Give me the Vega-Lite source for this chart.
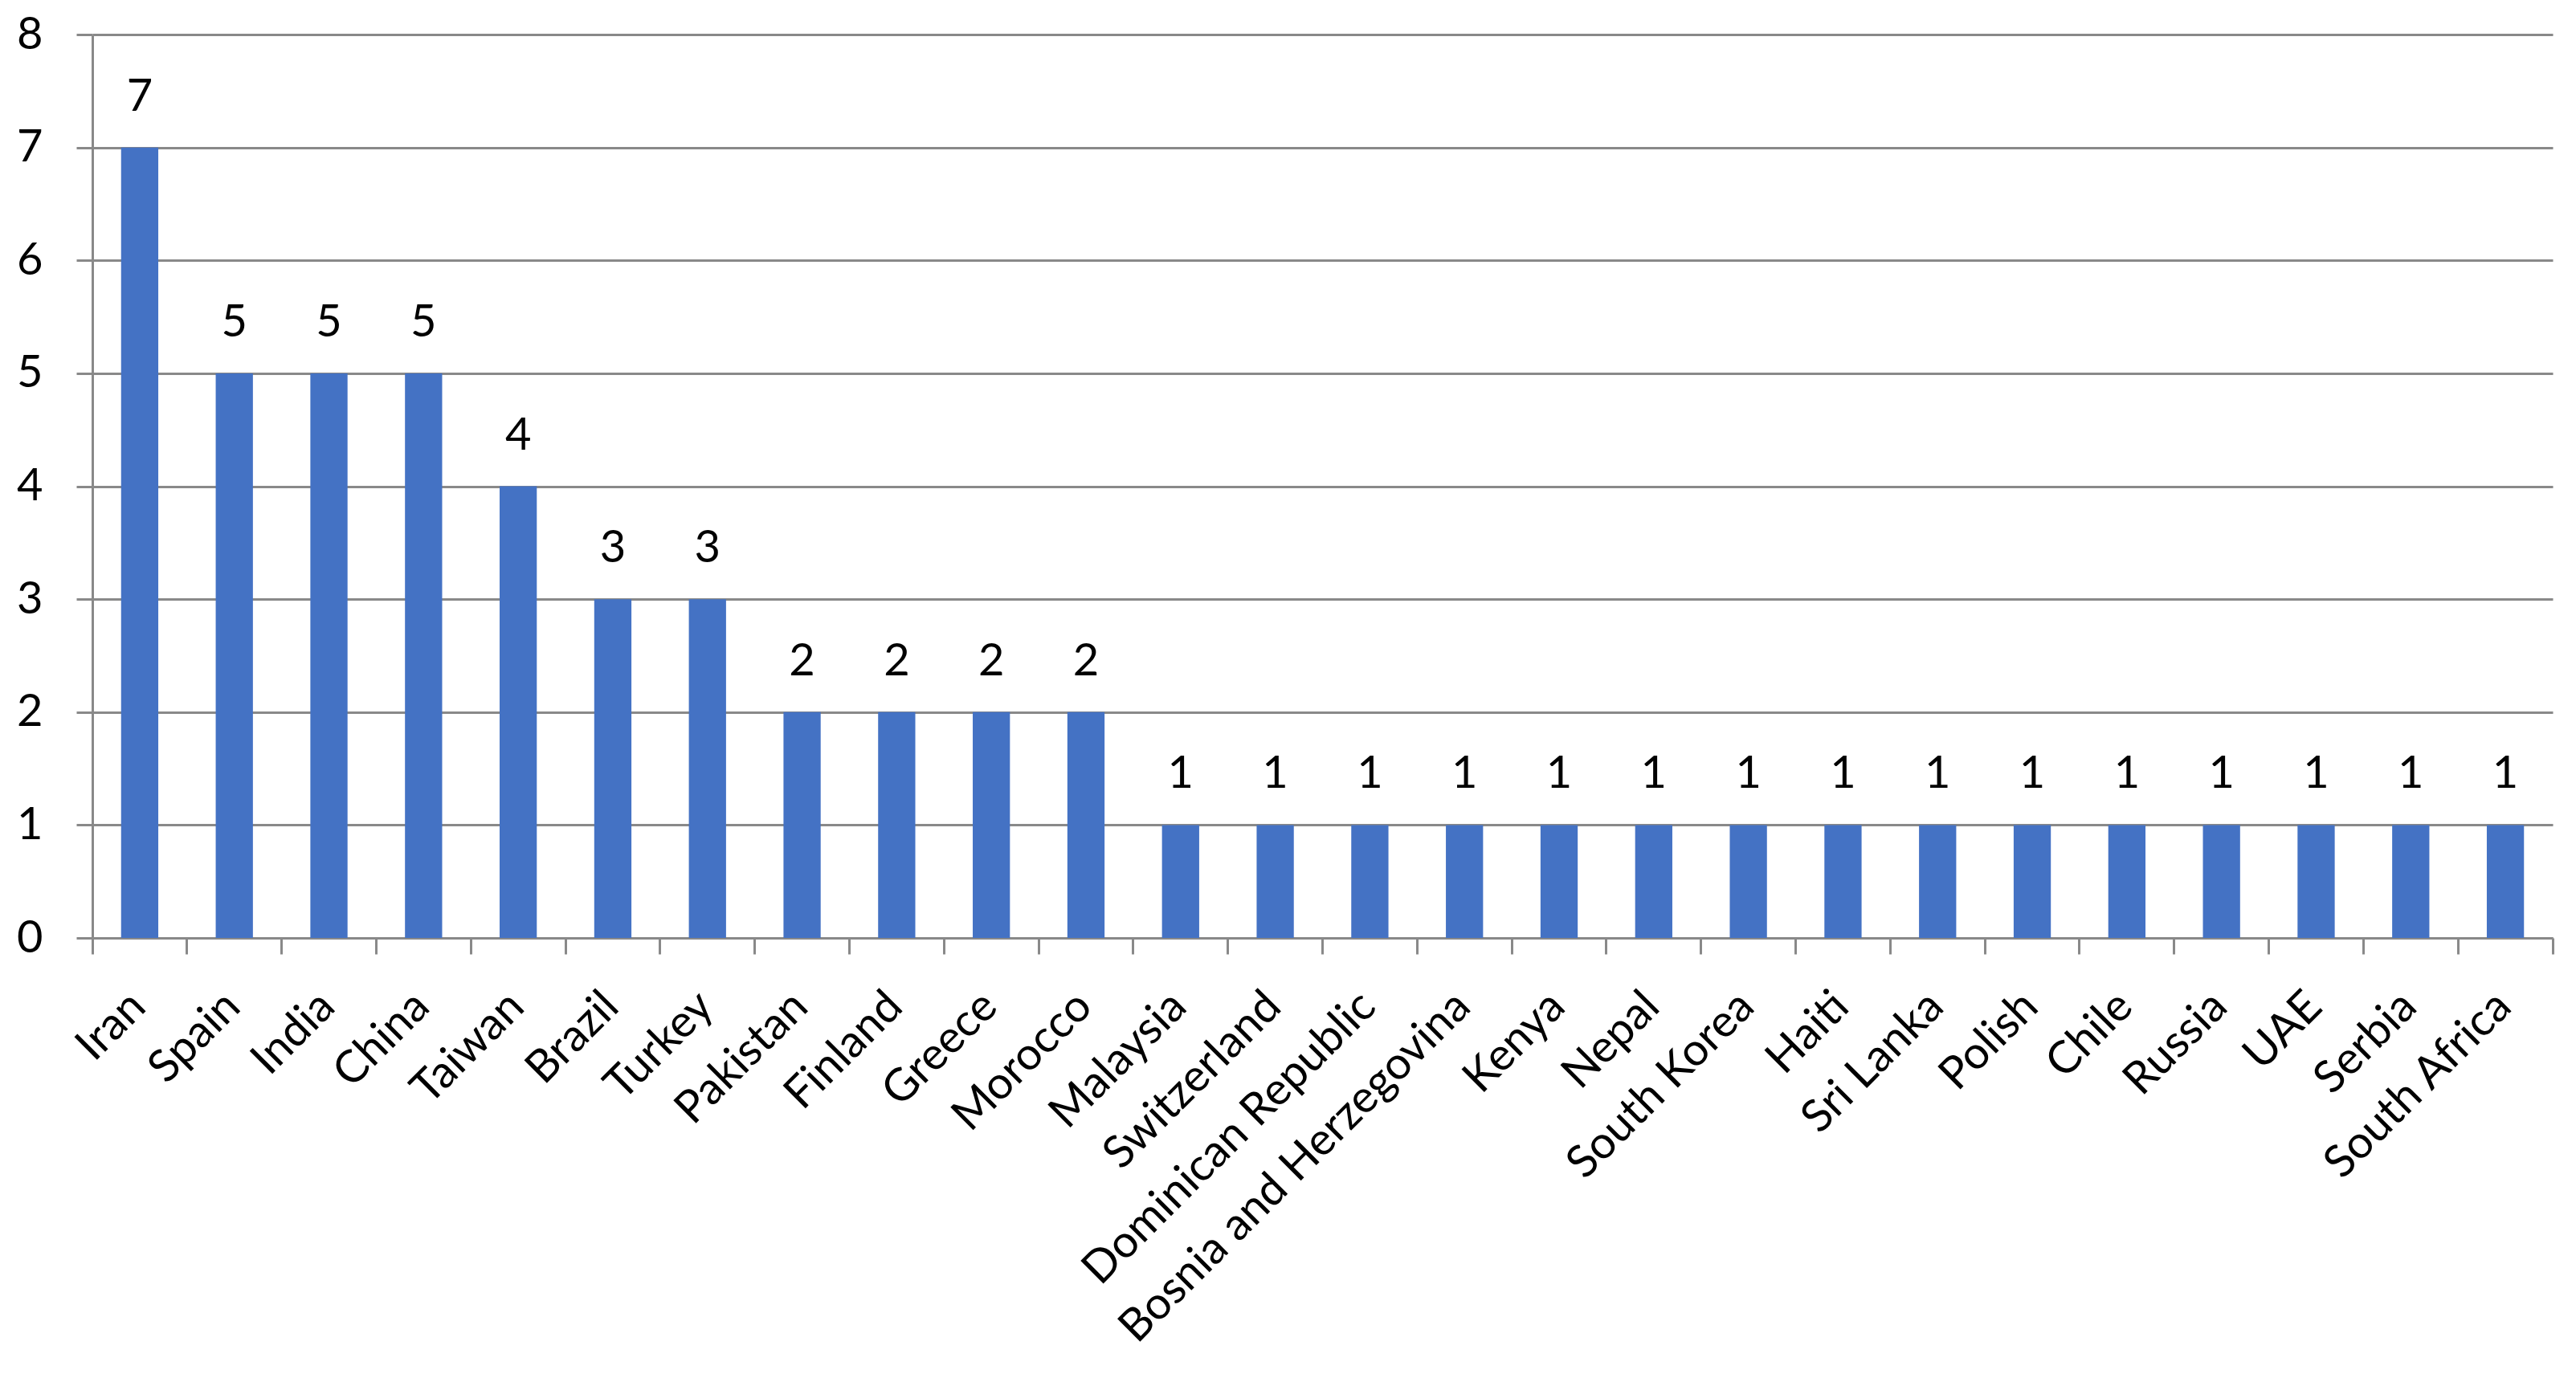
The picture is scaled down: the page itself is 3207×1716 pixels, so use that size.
{
  "$schema": "https://vega.github.io/schema/vega-lite/v6.json",
  "autosize": {"type": "none"},
  "padding": {"left": 115, "top": 43, "right": 29, "bottom": 548},
  "width": 3063,
  "height": 1125,
  "background": "white",
  "config": {
    "view": {"stroke": null},
    "font": "Lato",
    "axis": {"labelFont": "Lato", "labelColor": "#000000"}
  },
  "data": {
    "values": [
      {"country": "Iran", "count": 7},
      {"country": "Spain", "count": 5},
      {"country": "India", "count": 5},
      {"country": "China", "count": 5},
      {"country": "Taiwan", "count": 4},
      {"country": "Brazil", "count": 3},
      {"country": "Turkey", "count": 3},
      {"country": "Pakistan", "count": 2},
      {"country": "Finland", "count": 2},
      {"country": "Greece", "count": 2},
      {"country": "Morocco", "count": 2},
      {"country": "Malaysia", "count": 1},
      {"country": "Switzerland", "count": 1},
      {"country": "Dominican Republic", "count": 1},
      {"country": "Bosnia and Herzegovina", "count": 1},
      {"country": "Kenya", "count": 1},
      {"country": "Nepal", "count": 1},
      {"country": "South Korea", "count": 1},
      {"country": "Haiti", "count": 1},
      {"country": "Sri Lanka", "count": 1},
      {"country": "Polish", "count": 1},
      {"country": "Chile", "count": 1},
      {"country": "Russia", "count": 1},
      {"country": "UAE", "count": 1},
      {"country": "Serbia", "count": 1},
      {"country": "South Africa", "count": 1}
    ]
  },
  "encoding": {
    "x": {
      "field": "country",
      "type": "nominal",
      "sort": null,
      "scale": {"paddingInner": 0, "paddingOuter": 0},
      "axis": {
        "title": null,
        "bandPosition": 1,
        "tickExtra": true,
        "labelAngle": -45,
        "labelAlign": "right",
        "labelBaseline": "top",
        "labelFontSize": 56,
        "labelPadding": 37,
        "labelOffset": -21,
        "labelOverlap": false,
        "labelLimit": 1000,
        "tickSize": 20,
        "tickWidth": 3,
        "tickColor": "#898989",
        "domainColor": "#898989",
        "domainWidth": 3,
        "grid": false
      }
    },
    "y": {
      "field": "count",
      "type": "quantitative",
      "scale": {"domain": [0, 8], "nice": false},
      "axis": {
        "title": null,
        "values": [0, 1, 2, 3, 4, 5, 6, 7, 8],
        "labelFontSize": 56,
        "labelPadding": 42,
        "tickSize": 20,
        "tickWidth": 3,
        "tickColor": "#898989",
        "domainColor": "#898989",
        "domainWidth": 3,
        "grid": true,
        "gridColor": "#898989",
        "gridWidth": 3
      }
    }
  },
  "layer": [
    {
      "mark": {"type": "bar", "color": "#4472C4", "width": {"band": 0.393}}
    },
    {
      "mark": {"type": "text", "fontSize": 56, "color": "#000000", "baseline": "alphabetic", "dy": -46},
      "encoding": {"text": {"field": "count", "type": "quantitative"}}
    }
  ]
}
